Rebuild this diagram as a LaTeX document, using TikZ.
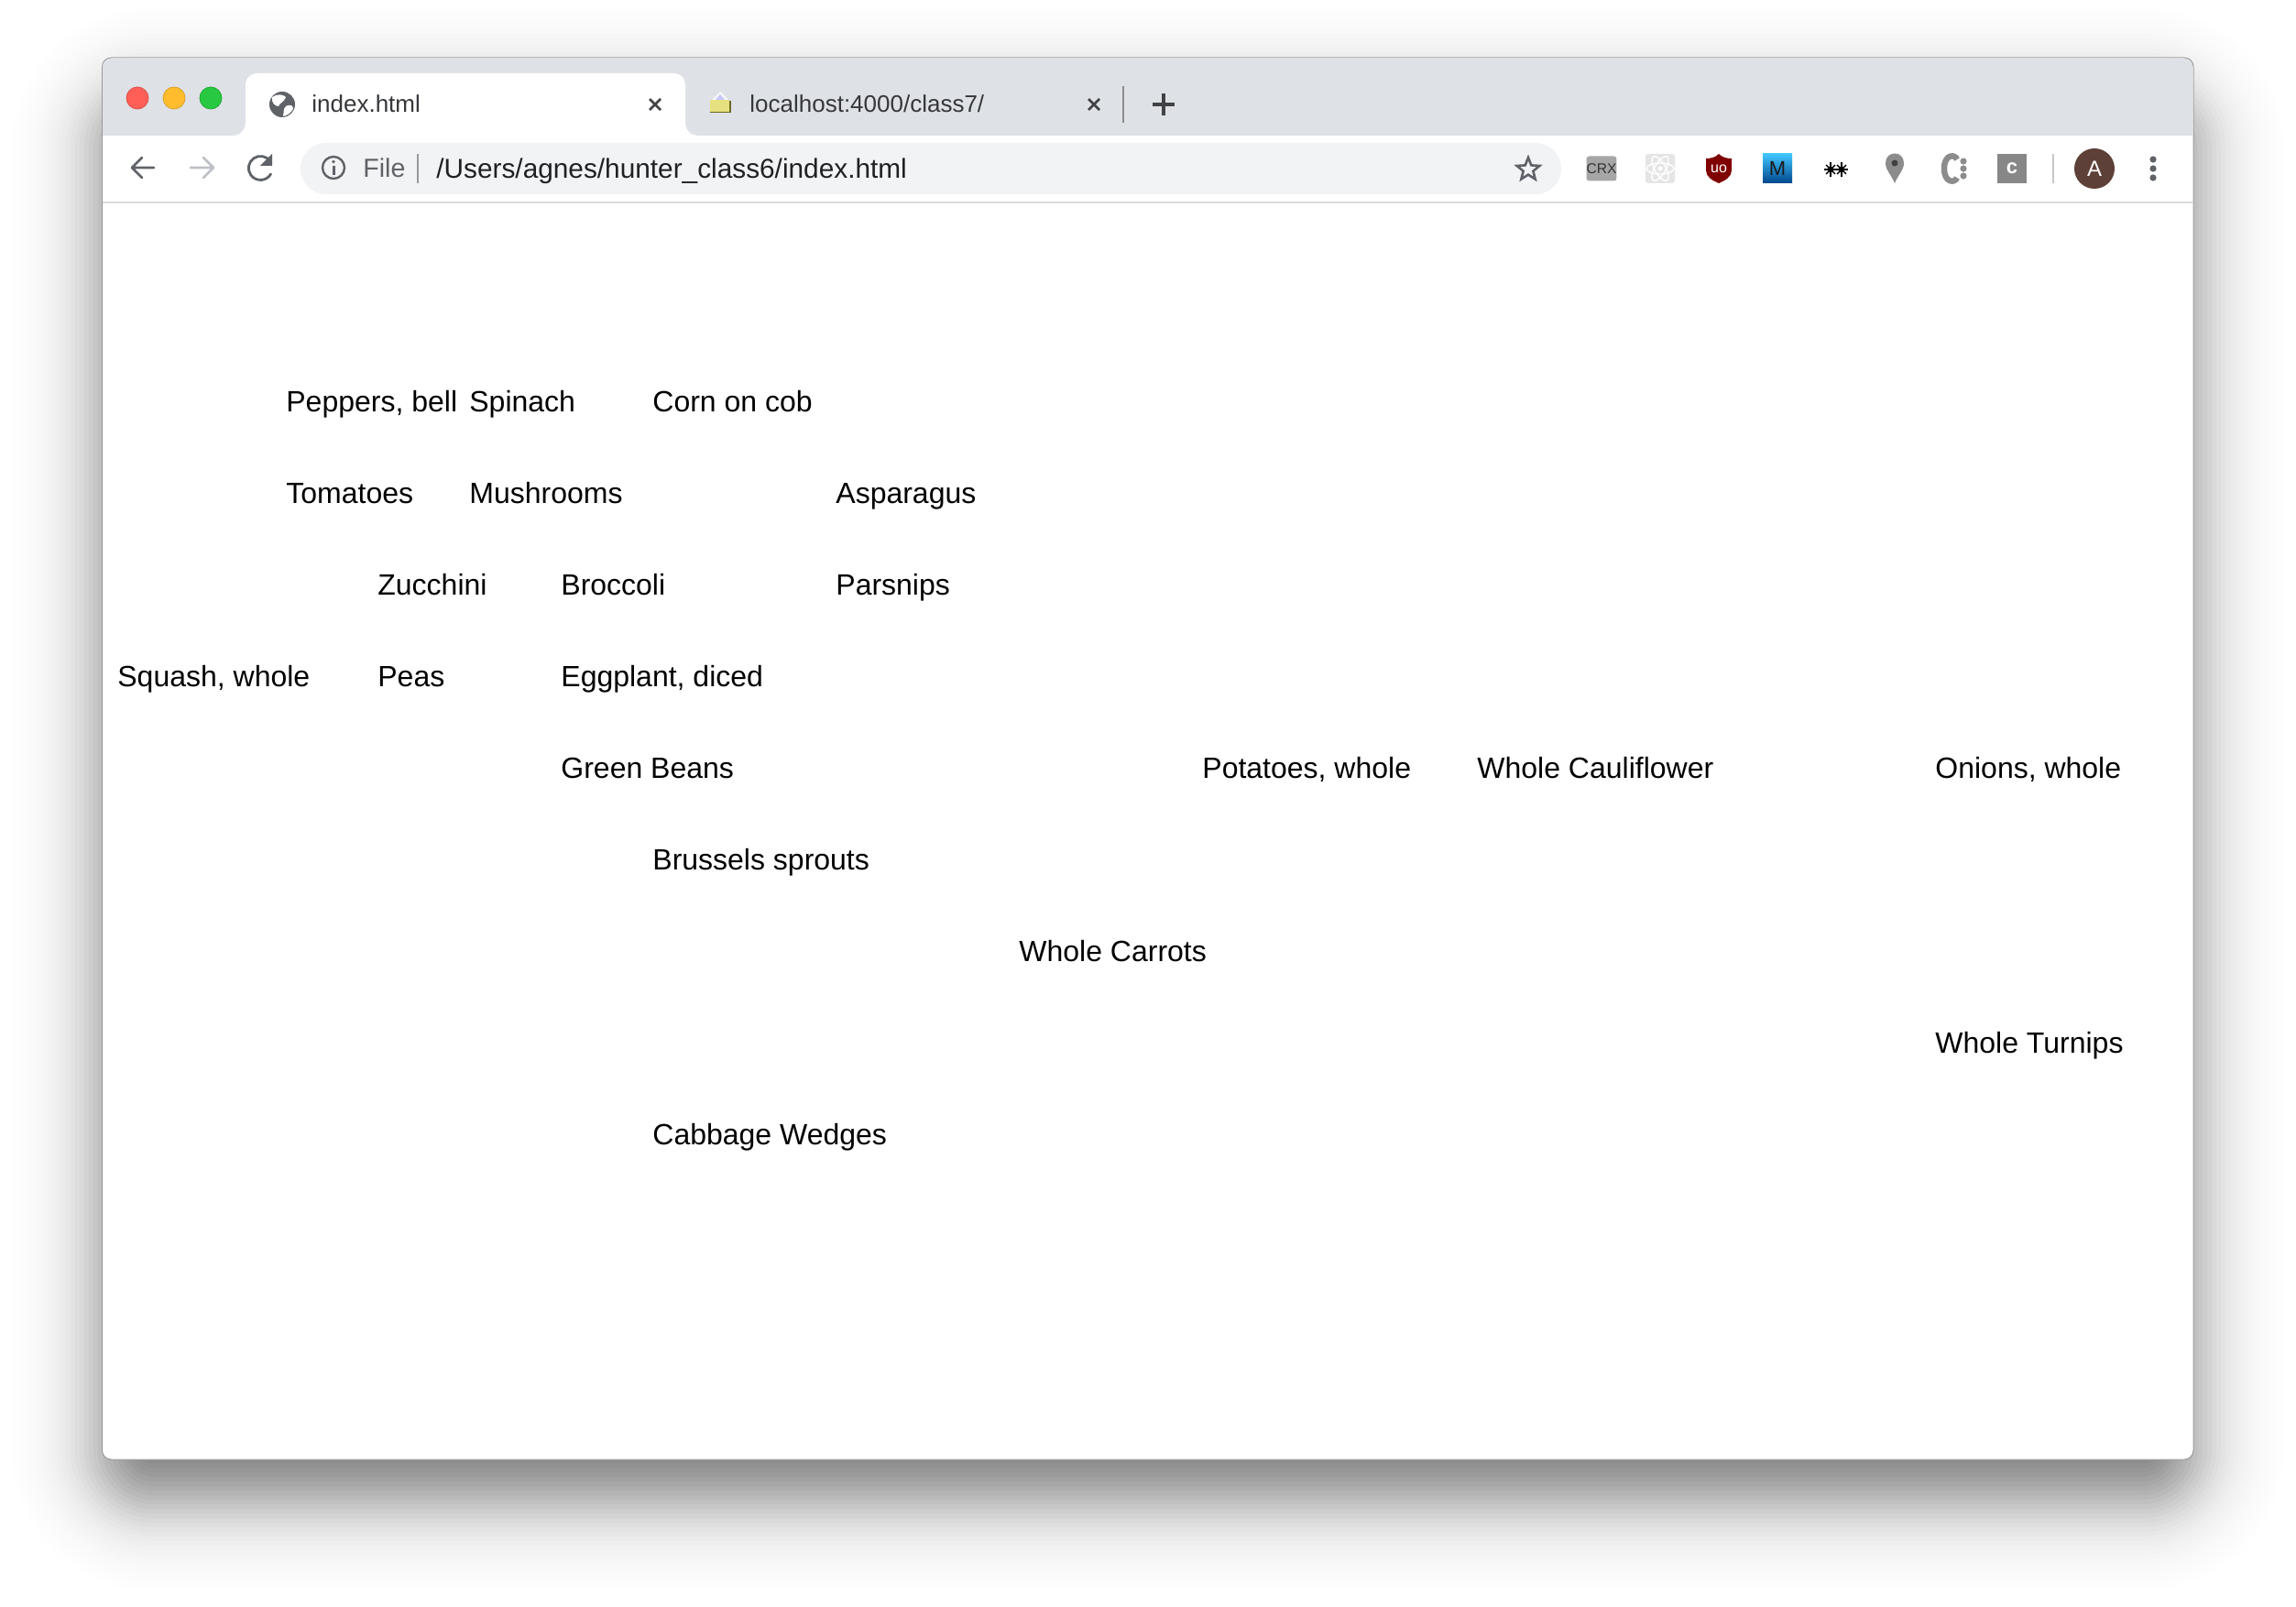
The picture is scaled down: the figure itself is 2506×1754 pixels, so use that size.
\documentclass[tikz,border=0pt]{standalone}
\usepackage{fontspec}
\setmainfont{Liberation Sans}
\usetikzlibrary{shapes.geometric}
\definecolor{strip}{HTML}{DEE1E6}
\definecolor{barbg}{HTML}{F1F3F4}
\definecolor{icon}{HTML}{5F6368}
\definecolor{iconoff}{HTML}{BDC1C6}
\definecolor{inkdark}{HTML}{202124}
\definecolor{lightred}{HTML}{FF5F57}
\definecolor{lightyellow}{HTML}{FFBD2E}
\definecolor{lightgreen}{HTML}{28C940}
\definecolor{avatarbrown}{HTML}{5D4037}
\definecolor{shieldred}{HTML}{800000}
\tikzset{
  x=0.5pt,y=-0.5pt,
  veg/.style={anchor=base west,inner sep=0pt,font=\fontsize{16}{18}\selectfont,text=black},
  tabtext/.style={anchor=base west,inner sep=0pt,font=\fontsize{13}{15}\selectfont,text=inkdark!90!white},
  filetext/.style={anchor=base west,inner sep=0pt,font=\fontsize{14.3}{16}\selectfont},
  urltext/.style={anchor=base west,inner sep=0pt,font=\fontsize{14.9}{16}\selectfont},
  iconline/.style={draw=icon,line width=1.4pt,line cap=round,line join=round},
  graybox/.style={fill=#1,rounded corners=1.5pt},
  light/.style={circle,inner sep=0pt,minimum size=12pt,line width=.4pt},
}
\begin{document}
\begin{tikzpicture}
\useasboundingbox (0,0) rectangle (2506,1754);
\fill[white] (0,0) rectangle (2506,1754);
% soft shadow
\foreach \k in {0,...,52}{
  \pgfmathsetmacro\e{130-5*\k}
  \pgfmathsetmacro\Acur{0.52/(1+exp(1.7*\e/46))}
  \pgfmathsetmacro\Aprev{0.52/(1+exp(1.7*(\e+5)/46))}
  \pgfmathsetmacro\al{1-(1-\Acur)/(1-\Aprev)}
  \pgfmathsetmacro\rr{max(6,(56+\e)*0.5)}
  \fill[black,fill opacity=\al,rounded corners=\rr pt]
     (111.5-\e,107-\e) rectangle (2394+\e,1637+\e);
}
% window
\fill[white,draw=black!40,line width=.5pt,rounded corners=5pt] (111.5,63) rectangle (2394,1593);
\fill[strip,rounded corners=5pt] (112,63.6) -- (112,148) -- (2393.4,148) -- (2393.4,63.6) -- cycle;
\fill[strip] (112,100) rectangle (2393.4,148);
% active tab
\fill[white] (253,148) .. controls (263,148) and (268,142) .. (268,132) -- (268,94)
  .. controls (268,85) and (273,80) .. (282,80) -- (734,80)
  .. controls (743,80) and (748,85) .. (748,94) -- (748,132)
  .. controls (748,142) and (753,148) .. (763,148) -- cycle;
% traffic lights
\node[light,fill=lightred,draw=lightred!85!black] (closebtn) at (150,107) {};
\node[light,fill=lightyellow,draw=lightyellow!85!black] (minbtn) at (190,107) {};
\node[light,fill=lightgreen,draw=lightgreen!85!black] (maxbtn) at (230,107) {};
% globe
\fill[icon] (308,114) circle[radius=14];
\fill[white] (297,106) .. controls (303,102) and (309,103) .. (312,106) .. controls (310,112) and (305,112) .. (304,116) .. controls (300,116) and (296,112) .. (297,106) -- cycle;
\fill[white] (312,116) .. controls (318,113) and (320,116) .. (320,119) .. controls (317,124) and (313,126) .. (309,127) .. controls (310,122) and (309,119) .. (312,116) -- cycle;
\node[tabtext] (tabone) at (340,123) {index.html};
\draw[draw=inkdark!85,line width=1.3pt] (709,108) -- (721,120) (721,108) -- (709,120);
% second tab
\fill[black!3] (776,110) -- (786,100) -- (796,110) -- cycle;
\fill[yellow!50!olive!45!white] (775,109) rectangle (796,122);
\draw[olive!70!black,line width=.8pt] (775,122.5) -- (797,122.5) -- (797,110);
\fill[blue!22!white] (781,109) -- (786,103) -- (791,109) -- cycle;
\node[tabtext] (tabtwo) at (818,123) {localhost:4000/class7/};
\draw[draw=inkdark!85,line width=1.3pt] (1188,108) -- (1200,120) (1200,108) -- (1188,120);
\draw[draw=black!45,line width=.7pt] (1226,94) -- (1226,134);
\draw[draw=inkdark!85,line width=1.7pt] (1258,114) -- (1282,114) (1270,102) -- (1270,126);
% toolbar
\fill[white] (112,148) rectangle (2393.4,220);
\draw[draw=black!14,line width=1pt] (112,221) -- (2393.4,221);
\fill[barbg,rounded corners=14pt] (328,156) rectangle (1704,212);
\draw[iconline] (168,183) -- (144,183) (155,172) -- (144,183) -- (155,194);
\draw[draw=iconoff,line width=1.4pt,line cap=round,line join=round] (208,183) -- (233,183) (222,172) -- (233,183) -- (222,194);
\draw[iconline] (295,176) arc[start angle=-35,end angle=-330,radius=13];
\fill[icon] (297,168) -- (297,181) -- (284,181) -- cycle;
\draw[iconline,line width=1.2pt] (364,183) circle[radius=12];
\fill[icon] (362.5,181) rectangle (365.5,191);
\fill[icon] (364,176.5) circle[radius=1.9];
\node[filetext,text=icon] (filelabel) at (396,194) {File};
\draw[draw=black!40,line width=.6pt] (456,168) -- (456,200);
\node[urltext,text=inkdark] (urlpath) at (476,195) {/Users/agnes/hunter\_class6/index.html};
\node[star,star points=5,star point ratio=2.3,draw=icon,line width=1.3pt,inner sep=0pt,minimum size=13pt] (bookmark) at (1668,185) {};
% extension icons
\node[graybox=black!35,minimum width=16pt,minimum height=13.5pt,inner sep=0pt,text=black!80,font=\fontsize{7.8}{8}\selectfont] (crx) at (1748,184) {CRX};
\fill[graybox=black!10] (1796,168) rectangle (1828,200);
\foreach \a in {0,60,120}{
  \draw[white,line width=.7pt,rotate around={\a:(1812,184)}] (1812,184) ellipse[x radius=15,y radius=6];
}
\fill[white] (1812,184) circle[radius=2.5];
\fill[shieldred] (1876,168) .. controls (1880,172) and (1885,173) .. (1890,173) -- (1890,186)
  .. controls (1890,193) and (1883,197) .. (1876,200) .. controls (1869,197) and (1862,193) .. (1862,186) -- (1862,173)
  .. controls (1867,173) and (1872,172) .. (1876,168) -- cycle;
\node[inner sep=0pt,text=white,font=\fontsize{8}{9}\selectfont] (ublock) at (1876,184) {uo};
\shade[top color=cyan!70!blue!75!white,bottom color=cyan!50!blue!55!black] (1924,168) rectangle (1956,200);
\node[inner sep=0pt,text=black!90,font=\fontsize{11}{11}\selectfont] (mext) at (1940,184) {M};
\foreach \cx in {1998,2010}{
  \foreach \a in {0,45,...,315}{
    \draw[black,line width=.7pt] (\cx,185) -- ++(\a:{\a==90||\a==270?8:7});
  }
  \fill[black] (\cx,185) circle[radius=3.2];
}
\fill[black!45] (2068,200) .. controls (2064,190) and (2058,186) .. (2058,178) .. controls (2058,164) and (2078,164) .. (2078,178) .. controls (2078,186) and (2072,190) .. (2068,200) -- cycle;
\fill[black!75] (2068,178) circle[radius=3.5];
\draw[black!45,line width=3.2pt] (2136,174) .. controls (2134,168) and (2122,168) .. (2122,184) .. controls (2122,200) and (2134,200) .. (2136,194);
\fill[black!45] (2143,176) circle[radius=3.6] (2143,184) circle[radius=3.6] (2143,192) circle[radius=3.6];
\fill[black!47] (2180,168) rectangle (2212,200);
\node[inner sep=0pt,text=white,font=\bfseries\fontsize{11}{12}\selectfont] (cext) at (2196,184) {c};
\draw[draw=black!22,line width=.7pt] (2241,168) -- (2241,200);
\node[circle,fill=avatarbrown,minimum size=22pt,inner sep=0pt,text=white,font=\fontsize{12}{13}\selectfont] (avatar) at (2286,184) {A};
\fill[icon] (2350,174) circle[radius=3.6] (2350,184) circle[radius=3.6] (2350,194) circle[radius=3.6];
% page content
\node[veg] (peppers) at (312,450) {Peppers, bell};
\node[veg] (spinach) at (512,450) {Spinach};
\node[veg] (corn) at (712,450) {Corn on cob};
\node[veg] (tomatoes) at (312,550) {Tomatoes};
\node[veg] (mushrooms) at (512,550) {Mushrooms};
\node[veg] (asparagus) at (912,550) {Asparagus};
\node[veg] (zucchini) at (412,649) {Zucchini};
\node[veg] (broccoli) at (612,649) {Broccoli};
\node[veg] (parsnips) at (912,649) {Parsnips};
\node[veg] (squash) at (128,749) {Squash, whole};
\node[veg] (peas) at (412,749) {Peas};
\node[veg] (eggplant) at (612,749) {Eggplant, diced};
\node[veg] (greenbeans) at (612,849) {Green Beans};
\node[veg] (potatoes) at (1312,849) {Potatoes, whole};
\node[veg] (cauliflower) at (1612,849) {Whole Cauliflower};
\node[veg] (onions) at (2112,849) {Onions, whole};
\node[veg] (brussels) at (712,949) {Brussels sprouts};
\node[veg] (carrots) at (1112,1049) {Whole Carrots};
\node[veg] (turnips) at (2112,1149) {Whole Turnips};
\node[veg] (cabbage) at (712,1249) {Cabbage Wedges};
\end{tikzpicture}
\end{document}
